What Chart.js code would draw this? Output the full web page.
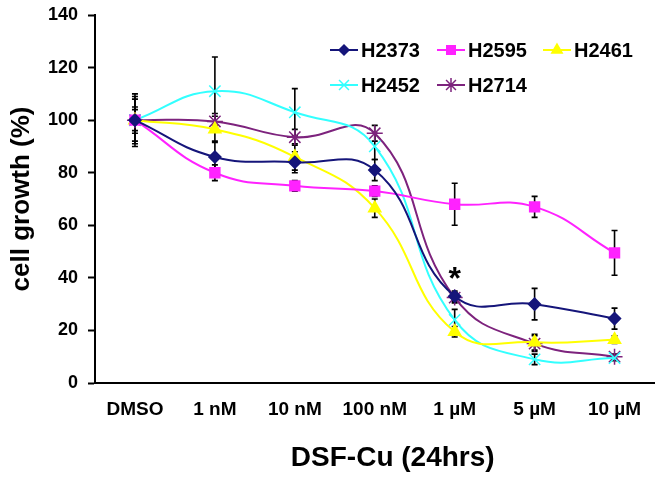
<!DOCTYPE html>
<html>
<head>
<meta charset="utf-8">
<script src="https://cdn.jsdelivr.net/npm/chart.js@4/dist/chart.umd.min.js"></script>
<style>
  html, body { margin: 0; padding: 0; background: #fff; }
  #wrap { width: 664px; height: 481px; position: relative; }
</style>
</head>
<body>
<div id="wrap"><canvas id="chart" width="664" height="481"></canvas></div>
<script>
const doses = ['DMSO', '1 nM', '10 nM', '100 nM', '1 \u00b5M', '5 \u00b5M', '10 \u00b5M'];
const yTicks = [0, 20, 40, 60, 80, 100, 120, 140];
const xTitle = 'DSF-Cu (24hrs)';

const h2373 = [100, 86, 84, 81, 33, 30, 24.5];
const h2595 = [100, 80, 75, 73, 68, 67, 49.5];
const h2461 = [100, 96.5, 86, 66.5, 19.5, 15.5, 16.5];
const h2452 = [100, 111, 103, 90, 24, 9, 9.5];
const h2714 = [100, 99.5, 93.5, 95, 32.5, 15, 10];

const h2373Err = [8, 6, 4, 4, 2, 6, 4];
const h2595Err = [5, 3, 2, 2, 8, 4, 8.5];
const h2461Err = [10, 5, 5, 3.5, 2, 3, 1.5];
const h2452Err = [4, 13, 9, 5, 4, 2, 1];
const h2714Err = [9, 3, 3, 3, 2, 3, 1];

const starAt = 4; // significance mark above 1 uM

function line(label, data, err, color, style, radius) {
	return {
		label: label,
		data: data,
		err: err,
		borderColor: color,
		backgroundColor: color,
		pointBackgroundColor: color,
		pointBorderColor: color,
		pointStyle: style,
		pointRadius: radius,
		pointBorderWidth: 1.5,
		borderWidth: 2,
		tension: 0.45,
		fill: false
	};
}

const datasets = [
	line('H2373', h2373, h2373Err, '#15157a', 'rectRot', 6),
	line('H2595', h2595, h2595Err, '#ff22ff', 'rect', 7),
	line('H2461', h2461, h2461Err, '#ffff00', 'triangle', 7),
	line('H2452', h2452, h2452Err, '#33ffff', 'crossRot', 8),
	line('H2714', h2714, h2714Err, '#7d237d', 'star', 8)
];

const errorBars = {
	id: 'errorBars',
	beforeDatasetsDraw(chart) {
		const ctx = chart.ctx;
		const y = chart.scales.y;
		ctx.save();
		ctx.strokeStyle = '#000';
		ctx.lineWidth = 1.6;
		chart.data.datasets.forEach((ds, i) => {
			const meta = chart.getDatasetMeta(i);
			meta.data.forEach((pt, j) => {
				const e = ds.err[j];
				const top = y.getPixelForValue(ds.data[j] + e);
				const bot = y.getPixelForValue(ds.data[j] - e);
				ctx.beginPath();
				ctx.moveTo(pt.x, top); ctx.lineTo(pt.x, bot);
				ctx.moveTo(pt.x - 3, top); ctx.lineTo(pt.x + 3, top);
				ctx.moveTo(pt.x - 3, bot); ctx.lineTo(pt.x + 3, bot);
				ctx.stroke();
			});
		});
		ctx.restore();
	},
	afterDatasetsDraw(chart) {
		const ctx = chart.ctx;
		const pt = chart.getDatasetMeta(0).data[starAt];
		ctx.save();
		ctx.fillStyle = '#000';
		ctx.font = 'bold 32px "Liberation Sans", Arial, sans-serif';
		ctx.textAlign = 'center';
		ctx.textBaseline = 'middle';
		ctx.fillText('*', pt.x, pt.y - 16);
		ctx.restore();
	}
};

// legend inside the plot and the x title (sits right of centre in the original)
const extras = {
	id: 'extras',
	afterDraw(chart) {
		const ctx = chart.ctx;
		const rows = [[0, 1, 2], [3, 4]];
		const startX = [330, 437, 543];
		const rowY = [50, 85];
		ctx.save();
		ctx.font = 'bold 20px "Liberation Sans", Arial, sans-serif';
		ctx.textBaseline = 'middle';
		rows.forEach((row, r) => {
			row.forEach((di, c) => {
				const ds = chart.data.datasets[di];
				const x = startX[c];
				const yy = rowY[r];
				ctx.strokeStyle = ds.borderColor;
				ctx.lineWidth = 2;
				ctx.beginPath();
				ctx.moveTo(x, yy); ctx.lineTo(x + 28, yy);
				ctx.stroke();
				ctx.fillStyle = ds.backgroundColor;
				ctx.lineWidth = 1.5;
				Chart.helpers.drawPoint(ctx, {pointStyle: ds.pointStyle, radius: ds.pointRadius - 1, rotation: 0, borderWidth: 1.5}, x + 14, yy);
				ctx.fillStyle = '#000';
				ctx.fillText(ds.label, x + 31, yy + 1);
			});
		});

		const xs = chart.scales.x;
		ctx.font = 'bold 28px "Liberation Sans", Arial, sans-serif';
		ctx.textAlign = 'center';
		ctx.fillStyle = '#000';
		ctx.fillText(xTitle, (xs.left + xs.right) / 2 + 18, 458);
		ctx.restore();
	}
};

new Chart(document.getElementById('chart').getContext('2d'), {
	type: 'line',
	data: { labels: doses, datasets: datasets },
	plugins: [errorBars, extras],
	options: {
		responsive: false,
		animation: false,
		layout: { padding: { top: 15, right: 9, left: 0, bottom: 0 } },
		plugins: {
			legend: { display: false },
			tooltip: { enabled: false }
		},
		scales: {
			x: {
				offset: true,
				afterFit(s) { s.height = 98; },
				grid: { display: false, offset: true, drawOnChartArea: false, drawTicks: true, tickLength: 7, tickColor: '#000', tickWidth: 2 },
				border: { color: '#000', width: 2 },
				ticks: { color: '#000', padding: 8, maxRotation: 0, font: { family: '"Liberation Sans", Arial', size: 19, weight: 'bold' } }
			},
			y: {
				min: 0, max: 140,
				afterFit(s) { s.width = 95; s.paddingTop = 0; s.paddingBottom = 0; },
				afterBuildTicks(s) { s.ticks = yTicks.map(v => ({ value: v })); },
				grid: { display: true, drawOnChartArea: false, tickLength: 7, tickColor: '#000', tickWidth: 2 },
				border: { color: '#000', width: 2 },
				ticks: { color: '#000', padding: 10, font: { family: '"Liberation Sans", Arial', size: 18, weight: 'bold' } },
				title: { display: true, text: 'cell growth (%)', color: '#000', padding: { top: 6, bottom: 4 }, font: { family: '"Liberation Sans", Arial', size: 26, weight: 'bold' } }
			}
		}
	}
});
</script>
</body>
</html>
